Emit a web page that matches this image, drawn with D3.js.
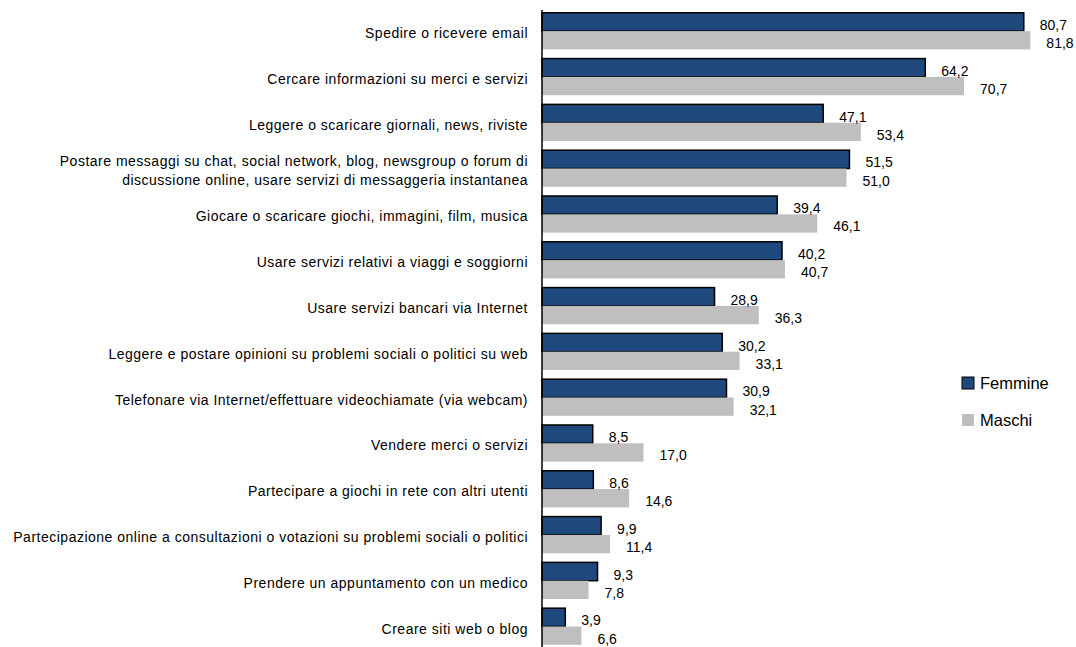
<!DOCTYPE html>
<html>
<head>
<meta charset="utf-8">
<script src="https://cdn.jsdelivr.net/npm/d3@7"></script>
<style>
  html, body { margin: 0; padding: 0; background: #fff; }
  svg { display: block; font-family: "Liberation Sans", Arial, sans-serif; }
</style>
</head>
<body>
<script>
// attività svolte su Internet, per sesso (valori %)
const categories = [
  "Spedire o ricevere email",
  "Cercare informazioni su merci e servizi",
  "Leggere o scaricare giornali, news, riviste",
  "Postare messaggi su chat, social network, blog, newsgroup o forum di\ndiscussione online, usare servizi di messaggeria instantanea",
  "Giocare o scaricare giochi, immagini, film, musica",
  "Usare servizi relativi a viaggi e soggiorni",
  "Usare servizi bancari via Internet",
  "Leggere e postare opinioni su problemi sociali o politici su web",
  "Telefonare via Internet/effettuare videochiamate (via webcam)",
  "Vendere merci o servizi",
  "Partecipare a giochi in rete con altri utenti",
  "Partecipazione online a consultazioni o votazioni su problemi sociali o politici",
  "Prendere un appuntamento con un medico",
  "Creare siti web o blog"
];
const femmine = [80.7, 64.2, 47.1, 51.5, 39.4, 40.2, 28.9, 30.2, 30.9, 8.5, 8.6, 9.9, 9.3, 3.9];
const maschi  = [81.8, 70.7, 53.4, 51.0, 46.1, 40.7, 36.3, 33.1, 32.1, 17.0, 14.6, 11.4, 7.8, 6.6];
const seriesNames = ["Femmine", "Maschi"];

const width = 1076, height = 647;
const colors = {Femmine: "#1f497d", Maschi: "#bfbfbf"};
const fmt = v => d3.format(".1f")(v).replace(".", ",");

const rows = categories.map((c, i) => ({cat: c, Femmine: femmine[i], Maschi: maschi[i]}));

const svg = d3.select("body").append("svg")
    .attr("width", width)
    .attr("height", height);

const x = d3.scaleLinear().domain([0, 90]).range([542, 542 + 90 * 5.97]);
const y = d3.scaleBand().domain(categories).range([8.2, 649.4])
    .paddingInner(0.2).paddingOuter(0.1);
const ys = d3.scaleBand().domain(seriesNames).range([0, y.bandwidth()]);

const g = svg.append("g")
  .selectAll("g")
  .data(rows)
  .join("g")
    .attr("transform", d => `translate(0,${y(d.cat)})`);

g.selectAll("rect")
  .data(d => seriesNames.map(s => ({s, v: d[s]})))
  .join("rect")
    .attr("x", x(0))
    .attr("y", d => ys(d.s))
    .attr("width", d => x(d.v) - x(0))
    .attr("height", ys.bandwidth())
    .attr("fill", d => colors[d.s])
    .attr("stroke", d => d.s === "Femmine" ? "#000" : null)
    .attr("stroke-width", 1.5);

// etichette valori
g.selectAll("text.val")
  .data(d => seriesNames.map(s => ({s, v: d[s]})))
  .join("text")
    .attr("class", "val")
    .attr("x", d => x(d.v) + 16)
    .attr("y", d => ys(d.s) + ys.bandwidth() / 2 + 8)
    .attr("font-size", 14)
    .attr("fill", "#000")
    .text(d => fmt(d.v));

// etichette categorie
const lab = svg.append("g")
    .attr("text-anchor", "end")
    .attr("font-size", 14)
    .attr("letter-spacing", 0.5)
    .attr("fill", "#000")
  .selectAll("text")
  .data(categories)
  .join("text")
    .attr("transform", d => `translate(528,${y(d) + y.bandwidth() / 2 + 2})`);

lab.selectAll("tspan")
  .data(d => {
    const lines = d.split("\n");
    return lines.map((t, i) => ({t, dy: (i - (lines.length - 1) / 2) * 19}));
  })
  .join("tspan")
    .attr("x", 0)
    .attr("y", d => d.dy)
    .attr("dominant-baseline", "central")
    .text(d => d.t);

// asse verticale
svg.append("line")
    .attr("x1", x(0)).attr("x2", x(0))
    .attr("y1", 10).attr("y2", height)
    .attr("stroke", "#000")
    .attr("stroke-width", 1.5);

// legenda
const leg = svg.append("g")
  .selectAll("g")
  .data(seriesNames)
  .join("g")
    .attr("transform", (d, i) => `translate(962,${383 + i * 37})`);

leg.append("rect")
    .attr("x", 0).attr("y", -6)
    .attr("width", 12).attr("height", 12)
    .attr("fill", d => colors[d])
    .attr("stroke", d => d === "Femmine" ? "#000" : null);

leg.append("text")
    .attr("x", 18)
    .attr("dominant-baseline", "central")
    .attr("font-size", 16.5)
    .text(d => d);
</script>
</body>
</html>
